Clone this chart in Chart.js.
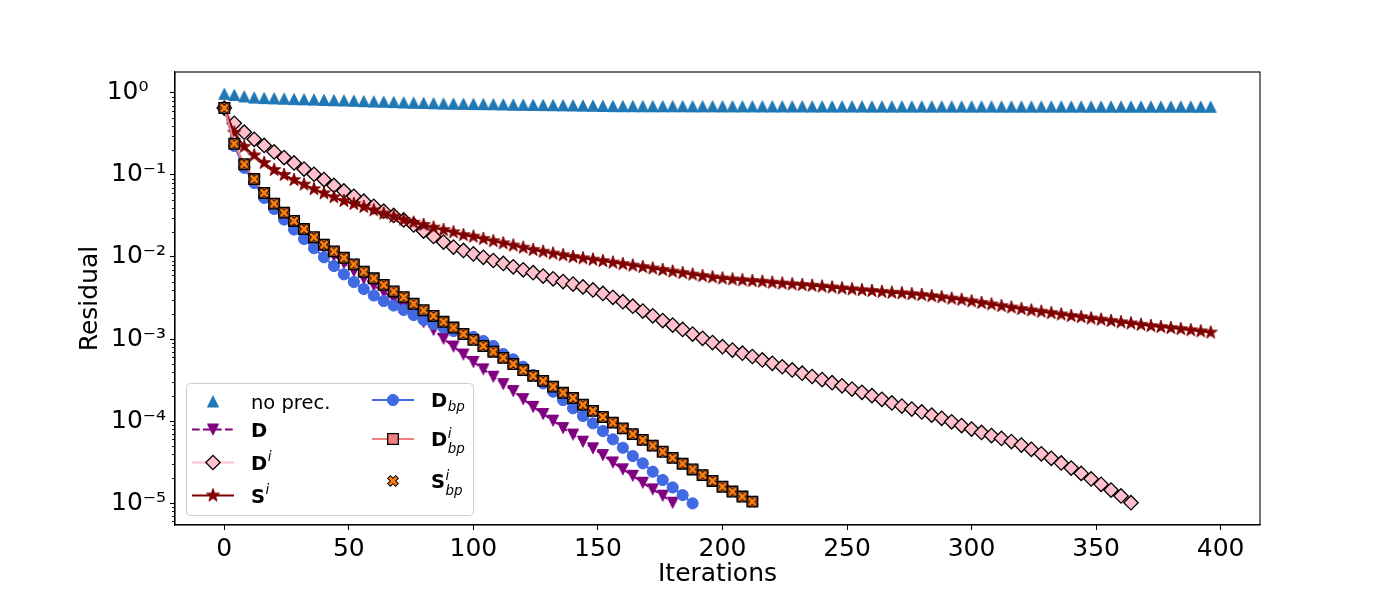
<!DOCTYPE html>
<html>
<head>
<meta charset="utf-8">
<title>Residual vs iterations</title>
<script src="https://cdn.jsdelivr.net/npm/chart.js@4.4.1/dist/chart.umd.min.js"></script>
<style>
  html, body { margin: 0; padding: 0; background: #fff; }
  canvas { display: block; }
</style>
</head>
<body>
<canvas id="residualChart" width="1400" height="600"></canvas>
<script>
// iteration numbers of the marked points (one mark every 4 iterations)
const iterations = [
  0, 4, 8, 12, 16, 20, 24, 28, 32, 36, 40, 44, 48, 52, 56, 60, 64, 68, 72, 76,
  80, 84, 88, 92, 96, 100, 104, 108, 112, 116, 120, 124, 128, 132, 136, 140, 144, 148, 152, 156,
  160, 164, 168, 172, 176, 180, 184, 188, 192, 196, 200, 204, 208, 212, 216, 220, 224, 228, 232, 236,
  240, 244, 248, 252, 256, 260, 264, 268, 272, 276, 280, 284, 288, 292, 296, 300, 304, 308, 312, 316,
  320, 324, 328, 332, 336, 340, 344, 348, 352, 356, 360, 364, 368, 372, 376, 380, 384, 388, 392, 396
];

const noPrec = [
  0.975, 0.945, 0.905, 0.878, 0.866, 0.858, 0.850, 0.842, 0.836, 0.829,
  0.821, 0.815, 0.809, 0.802, 0.793, 0.786, 0.780, 0.773, 0.765, 0.759,
  0.754, 0.748, 0.742, 0.739, 0.736, 0.733, 0.730, 0.727, 0.723, 0.719,
  0.716, 0.713, 0.711, 0.708, 0.706, 0.703, 0.700, 0.697, 0.694, 0.690,
  0.689, 0.689, 0.688, 0.688, 0.687, 0.687, 0.687, 0.686, 0.686, 0.686,
  0.685, 0.685, 0.685, 0.685, 0.684, 0.684, 0.684, 0.684, 0.684, 0.683,
  0.683, 0.683, 0.683, 0.683, 0.683, 0.682, 0.682, 0.682, 0.682, 0.682,
  0.682, 0.682, 0.681, 0.681, 0.681, 0.681, 0.681, 0.681, 0.680, 0.680,
  0.680, 0.680, 0.680, 0.680, 0.680, 0.680, 0.680, 0.679, 0.679, 0.679,
  0.679, 0.679, 0.679, 0.679, 0.679, 0.679, 0.679, 0.679, 0.678, 0.678
];

const dPrec = [
  0.655, 0.236, 0.132, 0.0857, 0.0578, 0.0431, 0.0325, 0.0252, 0.0199, 0.0159,
  0.0129, 0.0104, 0.00845, 0.00675, 0.00547, 0.00449, 0.00374, 0.00308, 0.00249, 0.00202,
  0.00161, 0.00129, 0.00101, 8.11e-4, 6.47e-4, 5.25e-4, 4.27e-4, 3.47e-4, 2.82e-4, 2.32e-4,
  1.85e-4, 1.49e-4, 1.22e-4, 1.01e-4, 8.22e-5, 6.84e-5, 5.60e-5, 4.65e-5, 3.85e-5, 3.13e-5,
  2.58e-5, 2.15e-5, 1.77e-5, 1.47e-5, 1.23e-5, 1.01e-5
];

const dIPrec = [
  0.655, 0.427, 0.332, 0.272, 0.229, 0.191, 0.163, 0.140, 0.118, 0.102,
  0.0879, 0.0745, 0.0638, 0.0550, 0.0479, 0.0415, 0.0362, 0.0321, 0.0283, 0.0246,
  0.0207, 0.0178, 0.0152, 0.0132, 0.0120,
  0.0109, 0.00991, 0.00906, 0.00833, 0.00759, 0.00698, 0.00644, 0.00586, 0.00542, 0.00502,
  0.00467, 0.00432, 0.00396, 0.00359, 0.00322, 0.00285, 0.00251, 0.00219, 0.00192, 0.00168,
  0.00148, 0.00131, 0.00115, 0.00102, 9.04e-4, 8.07e-4, 7.34e-4, 6.71e-4, 6.12e-4, 5.55e-4,
  5.06e-4, 4.59e-4, 4.19e-4, 3.83e-4, 3.49e-4, 3.20e-4, 2.93e-4, 2.69e-4, 2.45e-4, 2.24e-4,
  2.04e-4, 1.84e-4, 1.66e-4, 1.52e-4, 1.40e-4, 1.29e-4, 1.18e-4, 1.08e-4, 9.78e-5, 8.81e-5,
  7.98e-5, 7.26e-5, 6.65e-5, 6.14e-5, 5.62e-5, 5.09e-5, 4.52e-5, 3.98e-5, 3.51e-5, 3.08e-5,
  2.67e-5, 2.30e-5, 1.97e-5, 1.69e-5, 1.44e-5, 1.22e-5, 1.01e-5
];

const sIPrec = [
  0.655, 0.328, 0.221, 0.173, 0.140, 0.115, 0.100, 0.0869, 0.0764, 0.0671,
  0.0598, 0.0535, 0.0482, 0.0443, 0.0407, 0.0371, 0.0338, 0.0310, 0.0283, 0.0262,
  0.0246, 0.0228, 0.0213, 0.0200, 0.0185, 0.0177, 0.0166, 0.0156, 0.0147, 0.0138,
  0.0130, 0.0122, 0.0116, 0.0110, 0.0105, 0.0100, 0.00964, 0.00927, 0.00891, 0.00855,
  0.00819, 0.00785, 0.00753, 0.00724, 0.00694, 0.00664, 0.00637, 0.00610, 0.00586, 0.00565,
  0.00547, 0.00533, 0.00521, 0.00509, 0.00499, 0.00486, 0.00475, 0.00465, 0.00456, 0.00446,
  0.00436, 0.00425, 0.00414, 0.00404, 0.00394, 0.00385, 0.00376, 0.00367, 0.00361, 0.00352,
  0.00344, 0.00333, 0.00323, 0.00311, 0.00301, 0.00288, 0.00275, 0.00264, 0.00252, 0.00242,
  0.00232, 0.00223, 0.00215, 0.00207, 0.00199, 0.00191, 0.00185, 0.00178, 0.00172, 0.00166,
  0.00160, 0.00155, 0.00149, 0.00144, 0.00140, 0.00136, 0.00132, 0.00128, 0.00124, 0.00120
];

const dBpPrec = [
  0.655, 0.226, 0.122, 0.0799, 0.0525, 0.0385, 0.0286, 0.0216, 0.0166, 0.0128,
  0.00991, 0.00776, 0.00615, 0.00495, 0.00407, 0.00339, 0.00290, 0.00256, 0.00226, 0.00196,
  0.00171, 0.00152, 0.00138, 0.00125, 0.00115, 0.00106, 9.46e-4, 8.22e-4, 6.56e-4, 5.65e-4,
  4.59e-4, 3.64e-4, 2.88e-4, 2.28e-4, 1.80e-4, 1.43e-4, 1.15e-4, 9.38e-5, 7.55e-5, 5.98e-5,
  4.72e-5, 3.74e-5, 3.05e-5, 2.41e-5, 1.91e-5, 1.55e-5, 1.25e-5, 9.9e-6
];

const dIBpPrec = [
  0.655, 0.240, 0.135, 0.0891, 0.0603, 0.0447, 0.0347, 0.0275, 0.0219, 0.0174,
  0.0141, 0.0117, 0.00977, 0.00813, 0.00661, 0.00550, 0.00457, 0.00380, 0.00324, 0.00269,
  0.00224, 0.00191, 0.00162, 0.00138, 0.00115, 9.77e-4, 8.22e-4, 7.00e-4, 5.89e-4, 4.95e-4,
  4.17e-4, 3.55e-4, 3.09e-4, 2.63e-4, 2.21e-4, 1.91e-4, 1.58e-4, 1.33e-4, 1.12e-4, 9.55e-5,
  8.13e-5, 6.92e-5, 5.89e-5, 5.01e-5, 4.22e-5, 3.55e-5, 3.02e-5, 2.57e-5, 2.19e-5, 1.86e-5,
  1.58e-5, 1.38e-5, 1.20e-5, 1.04e-5
];

const sIBpPrec = [
  0.655, 0.240, 0.135, 0.0891, 0.0603, 0.0447, 0.0347, 0.0275, 0.0219, 0.0174,
  0.0141, 0.0117, 0.00977, 0.00813, 0.00661, 0.00550, 0.00457, 0.00380, 0.00324, 0.00269,
  0.00224, 0.00191, 0.00162, 0.00138, 0.00115, 9.77e-4, 8.22e-4, 7.00e-4, 5.89e-4, 4.95e-4,
  4.17e-4, 3.55e-4, 3.09e-4, 2.63e-4, 2.21e-4, 1.91e-4, 1.58e-4, 1.33e-4, 1.12e-4, 9.55e-5,
  8.13e-5, 6.92e-5, 5.89e-5, 5.01e-5, 4.22e-5, 3.55e-5, 3.02e-5, 2.57e-5, 2.19e-5, 1.86e-5,
  1.58e-5, 1.38e-5, 1.20e-5, 1.04e-5
];

const xTicks = [0, 50, 100, 150, 200, 250, 300, 350, 400];
const yTicks = [1e-5, 1e-4, 1e-3, 1e-2, 1e-1, 1];

const FONT = "'DejaVu Sans', sans-serif";
Chart.defaults.font.family = FONT;
Chart.defaults.color = '#000';

const toPoints = (values) => values.map((v, i) => ({ x: iterations[i], y: v }));

// marker images, drawn once on small canvases
function markerCanvas(size, draw) {
  const c = document.createElement('canvas');
  c.width = size;
  c.height = size;
  const g = c.getContext('2d');
  g.translate(size / 2, size / 2);
  draw(g);
  return c;
}

const triUp = markerCanvas(14, (g) => {
  g.beginPath();
  g.moveTo(0, -5.5); g.lineTo(5.5, 5.5); g.lineTo(-5.5, 5.5);
  g.closePath();
  g.fillStyle = '#1f77b4'; g.strokeStyle = '#1f77b4'; g.lineWidth = 1;
  g.fill(); g.stroke();
});

const triDown = markerCanvas(14, (g) => {
  g.beginPath();
  g.moveTo(0, 5.5); g.lineTo(5.5, -5.5); g.lineTo(-5.5, -5.5);
  g.closePath();
  g.fillStyle = 'purple'; g.strokeStyle = 'purple'; g.lineWidth = 1;
  g.fill(); g.stroke();
});

const star = markerCanvas(18, (g) => {
  g.beginPath();
  for (let k = 0; k < 10; k++) {
    const a = -Math.PI / 2 + k * Math.PI / 5;
    const r = k % 2 ? 2.7 : 6.9;
    g.lineTo(r * Math.cos(a), r * Math.sin(a));
  }
  g.closePath();
  g.fillStyle = 'maroon'; g.strokeStyle = 'maroon'; g.lineWidth = 1;
  g.fill(); g.stroke();
});

const xMark = markerCanvas(16, (g) => {
  const L = 5.6, w = 1.9;
  const pts = [[-w, -L], [w, -L], [w, -w], [L, -w], [L, w], [w, w], [w, L], [-w, L], [-w, w], [-L, w], [-L, -w], [-w, -w]];
  g.rotate(Math.PI / 4);
  g.beginPath();
  pts.forEach(([px, py]) => g.lineTo(px, py));
  g.closePath();
  g.fillStyle = '#ff7f0e'; g.strokeStyle = '#000'; g.lineWidth = 1;
  g.fill(); g.stroke();
});

const datasets = [
  {
    label: 'no prec.', data: toPoints(noPrec), showLine: false,
    pointStyle: triUp, pointRadius: 6
  },
  {
    label: 'D', data: toPoints(dPrec), borderColor: 'purple', borderWidth: 2, borderDash: [7.7, 3.3],
    pointStyle: triDown, pointRadius: 6
  },
  {
    label: 'Di', data: toPoints(dIPrec), borderColor: 'pink', borderWidth: 2,
    pointStyle: 'rectRot', pointRadius: 7.2, pointBackgroundColor: 'pink',
    pointBorderColor: '#000', pointBorderWidth: 1.3
  },
  {
    label: 'Si', data: toPoints(sIPrec), borderColor: 'maroon', borderWidth: 2,
    pointStyle: star, pointRadius: 6
  },
  {
    label: 'Dbp', data: toPoints(dBpPrec), borderColor: 'royalblue', borderWidth: 2,
    pointStyle: 'circle', pointRadius: 5.6, pointBackgroundColor: 'royalblue',
    pointBorderColor: 'royalblue', pointBorderWidth: 1
  },
  {
    label: 'Dibp', data: toPoints(dIBpPrec), borderColor: 'lightcoral', borderWidth: 2,
    pointStyle: 'rect', pointRadius: 7.5, pointBackgroundColor: 'lightcoral',
    pointBorderColor: '#000', pointBorderWidth: 1.3
  },
  {
    label: 'Sibp', data: toPoints(sIBpPrec), showLine: false,
    pointStyle: xMark, pointRadius: 6
  }
];
// later series are drawn on top, like the plotting order of the original
datasets.forEach((ds, i) => { ds.order = datasets.length - i; ds.tension = 0; });

const SUP = { '-': '\u207B', '0': '\u2070', '1': '\u00B9', '2': '\u00B2', '3': '\u00B3', '4': '\u2074', '5': '\u2075', '6': '\u2076' };
const powLabel = (v) => {
  const e = Math.round(Math.log10(v));
  const s = '10' + String(e).split('').map((c) => SUP[c]).join('');
  // the original's 10^0 label sits further left than the others
  return e === 0 ? s + '\u2002\u2009' : s;
};

function drawMarker(ctx, ds, x, y) {
  const st = ds.pointStyle;
  if (typeof st === 'object') {
    ctx.drawImage(st, x - st.width / 2, y - st.height / 2);
    return;
  }
  const r = ds.pointRadius;
  ctx.beginPath();
  if (st === 'circle') {
    ctx.arc(x, y, r, 0, Math.PI * 2);
  } else if (st === 'rect') {
    const h = r * Math.SQRT1_2;
    ctx.rect(x - h, y - h, 2 * h, 2 * h);
  } else if (st === 'rectRot') {
    ctx.moveTo(x - r, y); ctx.lineTo(x, y - r); ctx.lineTo(x + r, y); ctx.lineTo(x, y + r);
    ctx.closePath();
  }
  ctx.fillStyle = ds.pointBackgroundColor;
  ctx.strokeStyle = ds.pointBorderColor;
  ctx.lineWidth = ds.pointBorderWidth;
  ctx.fill();
  ctx.stroke();
}

function drawLabel(ctx, x, y, bold, base, sup, sub) {
  ctx.textAlign = 'left';
  ctx.textBaseline = 'alphabetic';
  ctx.fillStyle = '#000';
  ctx.font = (bold ? 'bold ' : '') + '19.5px ' + FONT;
  ctx.fillText(base, x, y);
  const w = ctx.measureText(base).width;
  ctx.font = 'italic 13.5px ' + FONT;
  if (sup) ctx.fillText(sup, x + w + 0.5, y - (sub ? 8 : 9));
  if (sub) ctx.fillText(sub, x + w + 0.5, y + (sup ? 7 : 3.5));
}

const legendRows = [
  { ds: 0, col: 0, y: 401.5, bold: false, text: ['no prec.'] },
  { ds: 1, col: 0, y: 429.5, bold: true, text: ['D'] },
  { ds: 2, col: 0, y: 462.5, bold: true, text: ['D', 'i'] },
  { ds: 3, col: 0, y: 495.5, bold: true, text: ['S', 'i'] },
  { ds: 4, col: 1, y: 400, bold: true, text: ['D', null, 'bp'] },
  { ds: 5, col: 1, y: 439, bold: true, text: ['D', 'i', 'bp'] },
  { ds: 6, col: 1, y: 481, bold: true, text: ['S', 'i', 'bp'] }
];
const legendCols = [{ x0: 192, x1: 234, tx: 251 }, { x0: 372, x1: 414, tx: 431 }];

const framePlugin = {
  id: 'frame',
  afterDraw(chart) {
    const { ctx, chartArea: a, scales } = chart;
    ctx.save();
    // minor ticks of the log axis
    const ys = scales.y;
    ctx.strokeStyle = '#000';
    ctx.lineWidth = 0.9;
    for (let k = -6; k <= 0; k++) {
      for (let m = 2; m <= 9; m++) {
        const v = m * Math.pow(10, k);
        if (v < ys.min || v > ys.max) continue;
        const py = Math.round(ys.getPixelForValue(v)) + 0.5;
        ctx.beginPath();
        ctx.moveTo(a.left, py);
        ctx.lineTo(a.left - 3, py);
        ctx.stroke();
      }
    }
    // box around the plot area
    ctx.lineWidth = 1.1;
    ctx.strokeRect(a.left, a.top, a.right - a.left, a.bottom - a.top);

    // legend
    ctx.beginPath();
    ctx.roundRect(186.5, 383.5, 287, 132, 4);
    ctx.fillStyle = 'rgba(255,255,255,0.8)';
    ctx.fill();
    ctx.strokeStyle = '#cccccc';
    ctx.lineWidth = 1;
    ctx.stroke();
    legendRows.forEach((row) => {
      const ds = datasets[row.ds];
      const c = legendCols[row.col];
      if (ds.showLine !== false) {
        ctx.beginPath();
        ctx.setLineDash(ds.borderDash || []);
        ctx.strokeStyle = ds.borderColor;
        ctx.lineWidth = ds.borderWidth;
        ctx.moveTo(c.x0, row.y);
        ctx.lineTo(c.x1, row.y);
        ctx.stroke();
        ctx.setLineDash([]);
      }
      drawMarker(ctx, ds, (c.x0 + c.x1) / 2, row.y);
      drawLabel(ctx, c.tx, row.y + 7, row.bold, row.text[0], row.text[1], row.text[2]);
    });
    ctx.restore();
  }
};

new Chart(document.getElementById('residualChart'), {
  type: 'line',
  data: { datasets },
  plugins: [framePlugin],
  options: {
    responsive: false,
    animation: false,
    devicePixelRatio: 1,
    events: [],
    layout: { padding: { left: 0, right: 140, top: 72, bottom: 0 } },
    plugins: { legend: { display: false }, tooltip: { enabled: false } },
    scales: {
      x: {
        type: 'linear',
        bounds: 'data',
        min: -19.8,
        max: 415.8,
        afterBuildTicks: (axis) => { axis.ticks = xTicks.map((v) => ({ value: v })); },
        afterFit: (axis) => { axis.height = 75; },
        ticks: { autoSkip: false, maxRotation: 0, padding: 4, font: { size: 25 }, color: '#000' },
        grid: { drawOnChartArea: false, tickLength: 5, tickColor: '#000', tickWidth: 1.1 },
        border: { display: true, color: '#000', width: 1.1 },
        title: { display: true, text: 'Iterations', font: { size: 25 }, color: '#000', padding: { top: 0, bottom: 11 } }
      },
      y: {
        type: 'logarithmic',
        bounds: 'data',
        min: 5.4e-6,
        max: 1.8,
        afterBuildTicks: (axis) => { axis.ticks = yTicks.map((v) => ({ value: v, major: true })); },
        afterFit: (axis) => { axis.width = 175; },
        ticks: { autoSkip: false, padding: 4, font: { size: 25 }, color: '#000', callback: (v) => powLabel(v) },
        grid: { drawOnChartArea: false, tickLength: 5, tickColor: '#000', tickWidth: 1.1 },
        border: { display: true, color: '#000', width: 1.1 },
        title: { display: true, text: 'Residual', font: { size: 25 }, color: '#000', padding: { top: 75, bottom: 0 } }
      }
    }
  }
});
</script>
</body>
</html>
